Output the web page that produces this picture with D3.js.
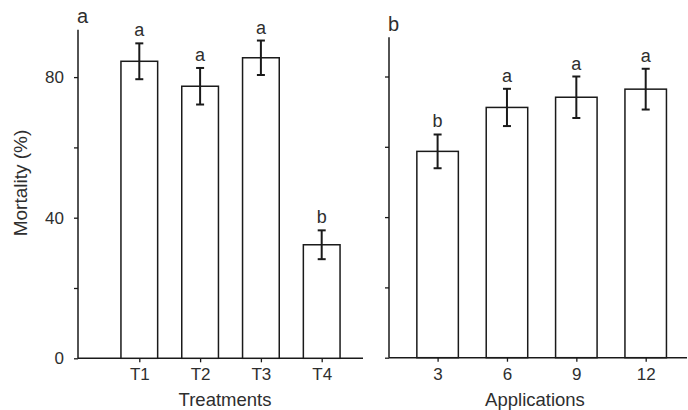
<!DOCTYPE html>
<html>
<head>
<meta charset="utf-8">
<script src="https://cdn.jsdelivr.net/npm/d3@7"></script>
<style>
  body { margin: 0; background: #fff; }
  text { font-family: "Liberation Sans", Arial, sans-serif; fill: #2e2e2e; }
</style>
</head>
<body>
<svg width="688" height="410"></svg>
<script>
// panel a: treatments
var treatments = ["T1", "T2", "T3", "T4"];
var treatMean = [84.5, 77.4, 85.5, 32.3];
var treatErr = [5.1, 5.2, 4.9, 4.1];
var treatLetters = ["a", "a", "a", "b"];

// panel b: number of applications
var applications = ["3", "6", "9", "12"];
var appMean = [58.7, 71.2, 74.1, 76.4];
var appErr = [4.8, 5.3, 5.9, 5.8];
var appLetters = ["b", "a", "a", "a"];

var yTicks = [0, 20, 40, 60, 80];
var yTickLabels = ["0", "", "40", "", "80"];

var svg = d3.select("svg");
var ink = "#1a1a1a";

function panel(opts) {
  var g = svg.append("g");
  var y = d3.scaleLinear().domain([0, 100]).range([opts.y0, opts.y0 - 351.5]);
  var x = d3.scalePoint().domain(opts.cats).range(opts.xr);

  // y axis
  var yAxis = d3.axisLeft(y)
    .tickValues(yTicks)
    .tickSize(4)
    .tickPadding(10)
    .tickFormat(function(d, i) { return opts.labels ? yTickLabels[i] : ""; });
  var ya = g.append("g")
    .attr("transform", "translate(" + opts.x0 + ",0)")
    .call(yAxis);
  ya.select(".domain").remove();
  ya.append("line")
    .attr("x1", 0).attr("x2", 0)
    .attr("y1", y(0)).attr("y2", y(opts.top))
    .attr("stroke", ink).attr("stroke-width", 1.5);

  // x axis
  var xAxis = d3.axisBottom(x).tickSize(4).tickPadding(6);
  var xa = g.append("g")
    .attr("transform", "translate(0," + y(0) + ")")
    .call(xAxis);
  xa.select(".domain").remove();
  xa.append("line")
    .attr("x1", opts.x0).attr("x2", opts.x1)
    .attr("y1", 0).attr("y2", 0)
    .attr("stroke", ink).attr("stroke-width", 1.5);

  [ya, xa].forEach(function(a) {
    a.selectAll(".tick line").attr("stroke", ink).attr("stroke-width", 1.3);
    a.selectAll(".tick text").attr("fill", "#2e2e2e").style("font-size", "17px")
      .style("font-family", "'Liberation Sans', Arial, sans-serif");
  });

  var data = opts.cats.map(function(c, i) {
    return {cat: c, mean: opts.mean[i], err: opts.err[i], letter: opts.letters[i]};
  });

  var bw = opts.bw;
  g.selectAll(".bar")
    .data(data)
    .enter().append("rect")
    .attr("class", "bar")
    .attr("x", function(d) { return x(d.cat) - bw / 2; })
    .attr("y", function(d) { return y(d.mean); })
    .attr("width", bw)
    .attr("height", function(d) { return y(0) - y(d.mean); })
    .attr("fill", "#fff")
    .attr("stroke", ink)
    .attr("stroke-width", 1.5);

  var eb = g.selectAll(".err")
    .data(data)
    .enter().append("g")
    .attr("class", "err")
    .attr("stroke", ink)
    .attr("stroke-width", 2);
  eb.append("line")
    .attr("x1", function(d) { return x(d.cat); })
    .attr("x2", function(d) { return x(d.cat); })
    .attr("y1", function(d) { return y(d.mean - d.err); })
    .attr("y2", function(d) { return y(d.mean + d.err); });
  [-1, 1].forEach(function(s) {
    eb.append("line")
      .attr("x1", function(d) { return x(d.cat) - 4; })
      .attr("x2", function(d) { return x(d.cat) + 4; })
      .attr("y1", function(d) { return y(d.mean + s * d.err); })
      .attr("y2", function(d) { return y(d.mean + s * d.err); });
  });

  g.selectAll(".letter")
    .data(data)
    .enter().append("text")
    .attr("class", "letter")
    .attr("x", function(d) { return x(d.cat); })
    .attr("y", function(d) { return y(d.mean + d.err) - 7; })
    .attr("text-anchor", "middle")
    .style("font-size", "18px")
    .text(function(d) { return d.letter; });

  g.append("text")
    .attr("x", opts.titleX)
    .attr("y", 406)
    .attr("text-anchor", "middle")
    .style("font-size", "18.5px")
    .text(opts.title);

  g.append("text")
    .attr("x", opts.x0 - 1)
    .attr("y", opts.tagY)
    .style("font-size", "20px")
    .text(opts.tag);

  return y;
}

panel({
  cats: treatments, mean: treatMean, err: treatErr, letters: treatLetters,
  x0: 78, x1: 363, y0: 358.3, xr: [139.3, 321.7], bw: 36.7, top: 93.5,
  labels: true, title: "Treatments", titleX: 225, tag: "a", tagY: 22.5
});

panel({
  cats: applications, mean: appMean, err: appErr, letters: appLetters,
  x0: 389, x1: 687, y0: 357.7, xr: [437.6, 645.7], bw: 41.5, top: 91.2,
  labels: false, title: "Applications", titleX: 535, tag: "b", tagY: 30.5
});

svg.append("text")
  .attr("transform", "translate(27,183) rotate(-90)")
  .attr("text-anchor", "middle")
  .style("font-size", "19px")
  .text("Mortality (%)");
</script>
</body>
</html>
